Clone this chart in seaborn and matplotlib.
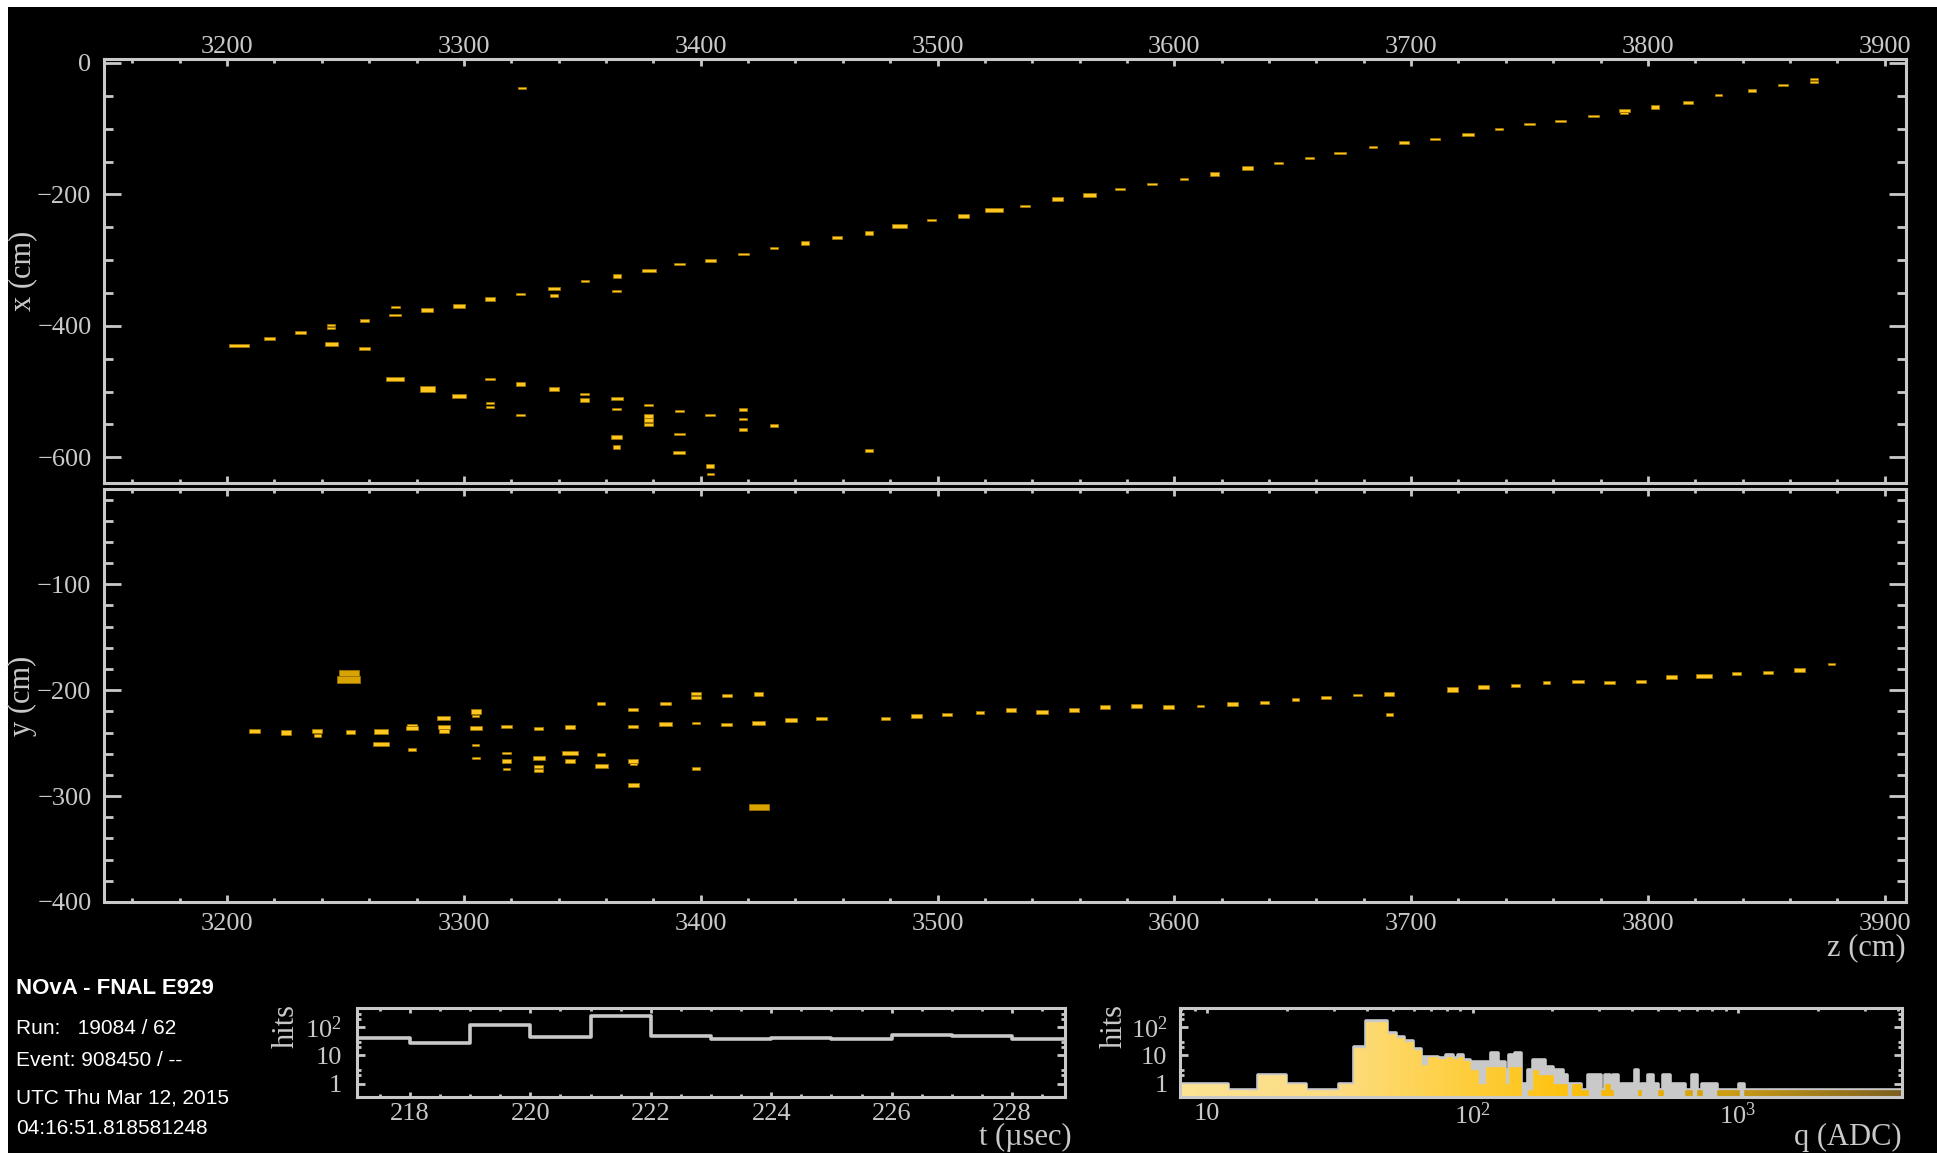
import numpy as np
import matplotlib
matplotlib.use("Agg")
import matplotlib.pyplot as plt
import seaborn as sns
from matplotlib.colors import LinearSegmentedColormap
from matplotlib.patches import Rectangle
from matplotlib.ticker import (MultipleLocator, FixedLocator, FixedFormatter,
                               LogLocator, NullFormatter)

# -----------------------------
# Hits in the x-z view (cm): centre z, centre x, width, height
# -----------------------------
xz_z = [3205, 3218, 3231, 3244, 3244, 3244, 3258, 3258, 3271, 3271,
        3271, 3284.5, 3284.5, 3298, 3298, 3311, 3311, 3311, 3311, 3324.4,
        3324, 3324, 3324, 3338, 3338, 3338, 3351, 3351, 3351, 3364.5,
        3364.5, 3364.5, 3364.5, 3364.5, 3364.5, 3378, 3378, 3378, 3378, 3378,
        3391, 3391, 3391, 3391, 3404, 3404, 3404, 3404, 3418, 3418,
        3418, 3418, 3431, 3431, 3444, 3457.5, 3471, 3471, 3484, 3497.5,
        3511, 3524, 3537, 3550.6, 3564, 3577, 3590.6, 3604, 3617, 3631,
        3644, 3657, 3670, 3684, 3697, 3710, 3724, 3737, 3750, 3763,
        3777, 3790, 3790, 3803, 3817, 3830, 3844, 3857, 3870, 3870]
xz_x = [-430, -419, -410, -399, -403, -428, -392, -434, -372, -384,
        -481, -376, -496, -370, -506, -359, -481, -518, -523, -37.6,
        -352, -489, -535, -343, -354, -496, -331, -503, -513, -324,
        -347, -510, -526, -569, -584, -316, -520, -537, -543, -550,
        -306, -530, -565, -593, -300, -535, -613, -626, -291, -527,
        -541, -558, -281, -551, -274, -265, -258, -590, -248, -239,
        -233, -224, -217, -207, -201, -192, -184.5, -176, -169, -160,
        -152.5, -144, -137, -128.6, -121, -115, -109, -100, -93.5, -88.5,
        -81, -72, -76, -67.6, -60.5, -49, -42, -34, -25, -29]
xz_w = [8.5, 4.5, 4.5, 3.5, 3.5, 5.5, 4, 5, 4, 5,
        7.5, 5, 6.5, 5, 6, 4.5, 4.5, 3.5, 3.5, 3.5,
        4, 4, 4, 5, 3.5, 4, 3.5, 4, 4, 3.5,
        4, 5, 4, 4.5, 3, 6, 4, 3.5, 3.5, 3.5,
        4.5, 4, 4.5, 5, 4.5, 4, 3.5, 3, 4.5, 3.5,
        3.5, 3.5, 3.5, 3.5, 3.5, 4.5, 3.5, 3.5, 6.5, 3.5,
        4.5, 7.5, 4, 4.5, 5.5, 4, 4.5, 3.5, 4, 4.5,
        3.5, 4, 5, 3.5, 4.5, 4, 5, 3.5, 4.5, 4.5,
        5, 4.5, 3.5, 3.5, 4.5, 3, 3.5, 4, 3.5, 3.5]
xz_h = [5, 4, 5, 3, 3, 6, 5, 5, 3, 3,
        6, 7, 8, 7, 6, 5, 3, 3, 3, 3,
        3, 6, 3, 5, 5, 6, 3, 3, 7, 5,
        3, 5, 3, 5, 7, 5, 3, 5, 5, 6,
        3, 3, 3, 5, 5, 3, 6, 3, 3, 5,
        3, 5, 3, 5, 7, 5, 6, 5, 5, 3,
        5, 6, 3, 5, 5, 3, 3, 3, 5, 5,
        3, 3, 3, 3, 5, 3, 5, 3, 3, 3,
        3, 4, 4, 6, 5, 3, 5, 3, 3, 3]

# -----------------------------
# Hits in the y-z view (cm)
# -----------------------------
yz_z = [3211.5, 3224.8, 3238, 3238, 3251.4, 3251.4, 3252, 3265, 3265, 3278,
        3278, 3278, 3291.5, 3291.5, 3291.5, 3305, 3305, 3305, 3305, 3305,
        3318, 3318, 3318, 3318, 3331.6, 3331.6, 3331.6, 3331.6, 3344.8, 3344.8,
        3344.8, 3358, 3358, 3358, 3371.5, 3371.5, 3371.5, 3371.5, 3371.5, 3385,
        3385, 3398, 3398, 3398, 3398, 3411, 3411, 3424.5, 3424.5, 3424.5,
        3438, 3451, 3478, 3491, 3504, 3518, 3531, 3544, 3557.7, 3570.8,
        3584, 3597.5, 3611, 3624.5, 3638, 3651, 3664, 3677.4, 3690.7, 3690.7,
        3717.4, 3730.6, 3744, 3757, 3770.6, 3783.7, 3797, 3810, 3823.7, 3837.4,
        3850.7, 3864, 3877.4]
yz_y = [-238.6, -240, -238.6, -242.6, -183.5, -189.5, -239.5, -239, -250.5, -233,
        -236, -256, -226.6, -235, -238.5, -220, -224, -235.7, -251.7, -264,
        -234.5, -259, -266.8, -274.6, -236, -264, -272, -276, -234.8, -259,
        -266.8, -212.5, -260.5, -271.5, -218.5, -234, -266.8, -270, -289.7, -212.5,
        -231.7, -203, -207.2, -230.7, -274, -205, -232.3, -203.4, -230.7, -310,
        -228, -227, -227, -224.5, -223, -220.7, -218.8, -220.4, -219, -216,
        -214.7, -216, -215, -212.9, -211.3, -208.8, -207.2, -204.4, -203.4, -222.8,
        -199.4, -196.9, -195.6, -192.5, -191.5, -192.5, -191.5, -187.8, -186.8, -184.3,
        -183, -180.6, -175.2]
yz_w = [4.5, 4.5, 4, 3, 8.3, 9.8, 4, 6, 6.5, 4.5,
        5, 3.5, 5.5, 5, 4, 4, 3, 5, 3, 3.5,
        4.5, 3.5, 3.5, 3, 4, 5, 4, 4, 4.5, 7,
        4.5, 3.5, 3.5, 5.5, 4, 4, 4, 3, 4.5, 4.5,
        5.5, 4.5, 4.5, 3.5, 3.5, 4, 4.5, 4, 5.5, 8.5,
        5, 5, 4, 4.5, 4.5, 3.5, 4.5, 5, 4.5, 4.5,
        5, 4.5, 3, 4.5, 4, 3, 4, 3.5, 4.5, 3,
        4.5, 4.5, 4, 3, 5, 4.5, 4, 5, 6.5, 4,
        4, 4.5, 3]
yz_h = [3.5, 4, 3, 3, 6, 6.5, 3, 4, 4, 3,
        4, 3, 4, 3.5, 3, 4, 2, 4, 2, 2,
        3, 2, 3, 2, 3, 4, 3, 3, 4, 4,
        3, 3, 3, 4, 3, 3, 3, 2, 4, 3,
        4, 3, 3, 2, 3, 3, 3, 4, 4, 6,
        4, 3, 3, 4, 3, 3, 4, 4, 4, 4,
        4, 4, 2, 4, 3, 2, 3, 2, 4, 3,
        4, 3, 3, 3, 3, 3, 3, 4, 4, 3,
        3, 4, 2]
yz_dark = [4, 5, 49]   # big, high-charge hits drawn darker

# -----------------------------
# Timing histogram
# -----------------------------
t_edges = [217, 218, 219, 220, 221, 222, 223, 224, 225, 226, 227, 228, 229]
t_hits = [41, 27, 115, 44, 240, 48, 39, 42, 39, 54, 48, 37]

# -----------------------------
# Charge histogram (all hits in grey, hits in view coloured by charge)
# -----------------------------
q_edges = [7.9, 12, 15.5, 19.8, 23.6, 31.5, 35.9, 39.7, 47.6, 51.5,
           55.3, 59.6, 64, 68.2, 74, 79.6, 84.3, 88, 92, 97.5,
           104.8, 112.7, 117.6, 124.5, 132, 137, 144, 152.6, 161.8, 169,
           176, 187, 201, 210, 219, 226, 236, 257, 272, 306,
           315, 329, 337, 354, 409, 421, 433, 459, 480, 501,
           524, 555, 632, 670, 700, 731, 834, 1006, 1057, 4150]
q_all = [1, 0.6, 2, 1, 0.6, 1, 20, 165, 62, 45,
         32, 17, 9, 9, 8, 10, 8, 10, 7, 6,
         6, 6, 12, 6, 3, 10, 12, 1, 3, 7,
         7, 4, 3, 3, 2, 1, 1, 0.6, 2, 0.6,
         2, 0.6, 2, 1, 3, 0.6, 1, 2, 1, 0.6,
         2, 1, 0.6, 2, 0.6, 1, 0.6, 1, 0.6]
q_view = [1, 0.6, 2, 1, 0.6, 1, 18, 150, 58, 42,
          30, 16, 4.5, 9, 7.5, 9, 7.5, 9, 6.5, 3,
          1, 4, 4, 4, 1, 4, 4, 0, 0.6, 3,
          2, 2, 1, 1, 1, 0, 1, 0.6, 0, 0.6,
          1, 0.6, 0, 0, 0, 0.6, 0, 0, 0, 0.6,
          0, 0, 0.6, 0, 0.6, 0, 0.6, 0, 0.6]

info_lines = ["NOvA - FNAL E929", "Run:   19084 / 62", "Event: 908450 / --",
              "UTC Thu Mar 12, 2015", "04:16:51.818581248"]
info_y = [989, 1029, 1060, 1098, 1128]

# -----------------------------
# Style
# -----------------------------
GREY = "#c9c9c9"
HIT = "#ffc71f"
HIT_DARK = "#d9a300"
HIT_EDGE = "#9a7200"
W, H = 1937, 1153

sns.set_style("dark", {"axes.facecolor": "black", "figure.facecolor": "white"})
plt.rcParams["font.family"] = ["Liberation Serif", "DejaVu Serif"]
plt.rcParams["mathtext.fontset"] = "custom"
plt.rcParams["mathtext.rm"] = "Liberation Serif"
plt.rcParams["mathtext.it"] = "Liberation Serif:italic"
plt.rcParams["axes.unicode_minus"] = True

q_cmap = LinearSegmentedColormap.from_list("adc", [
    (0.00, "#fde393"), (0.22, "#fedd80"), (0.33, "#ffd452"),
    (0.44, "#ffca2a"), (0.53, "#ffc20c"), (0.63, "#f0b300"),
    (0.77, "#c99a10"), (1.00, "#7a5d1c")])


def box(l, t, r, b):
    return [l / W, 1 - b / H, (r - l) / W, (b - t) / H]


def frame(ax, xlen, ylen, size=19):
    ax.set_facecolor("black")
    ax.grid(False)
    for sp in ax.spines.values():
        sp.set_visible(True)
        sp.set_color(GREY)
        sp.set_linewidth(2.2)
    ax.tick_params(which="both", direction="in", color=GREY, labelcolor=GREY,
                   width=2, top=True, bottom=True, left=True, right=True,
                   labelsize=size)
    ax.tick_params(axis="x", which="major", length=xlen[0])
    ax.tick_params(axis="x", which="minor", length=xlen[1])
    ax.tick_params(axis="y", which="major", length=ylen[0])
    ax.tick_params(axis="y", which="minor", length=ylen[1])


def draw_hits(ax, z, pos, w, h, dark=()):
    z, pos, w, h = map(np.asarray, (z, pos, w, h))
    cols = [HIT_DARK if i in dark else HIT for i in range(len(z))]
    ax.bar(z, h, width=w, bottom=pos - h / 2, color=cols,
           edgecolor=HIT_EDGE, linewidth=0.6, zorder=3)


fig = plt.figure(figsize=(W / 100, H / 100), dpi=100)
fig.add_artist(Rectangle((8 / W, 0), 1, 1 - 7 / H, transform=fig.transFigure,
                         facecolor="black", edgecolor="none", zorder=-5))

ax_xz = fig.add_axes(box(104, 59, 1906, 483))
ax_yz = fig.add_axes(box(104, 489, 1906, 902))
ax_t = fig.add_axes(box(357, 1008, 1065, 1097))
ax_q = fig.add_axes(box(1180, 1008, 1902, 1097))

# -----------------------------
# Detector views
# -----------------------------
draw_hits(ax_xz, xz_z, xz_x, xz_w, xz_h)
draw_hits(ax_yz, yz_z, yz_y, yz_w, yz_h, dark=yz_dark)

for ax in (ax_xz, ax_yz):
    frame(ax, (5, 3), (12.5, 6.5))
    ax.set_xlim(3148, 3909)
    ax.xaxis.set_major_locator(MultipleLocator(100))
    ax.xaxis.set_minor_locator(MultipleLocator(20))
    ax.tick_params(axis="y", which="major", pad=9)

ax_xz.set_ylim(-639, 6)
ax_xz.yaxis.set_major_locator(MultipleLocator(200))
ax_xz.yaxis.set_minor_locator(MultipleLocator(50))
ax_xz.tick_params(axis="x", labeltop=True, labelbottom=False, pad=1)
ax_xz.set_ylabel("x (cm)", fontsize=22, color=GREY)
ax_xz.yaxis.set_label_coords(-0.037, 0.5)

ax_yz.set_ylim(-400, -10)
ax_yz.yaxis.set_major_locator(MultipleLocator(100))
ax_yz.yaxis.set_minor_locator(MultipleLocator(20))
ax_yz.tick_params(axis="x", labeltop=False, labelbottom=True, pad=8)
ax_yz.set_ylabel("y (cm)", fontsize=22, color=GREY)
ax_yz.yaxis.set_label_coords(-0.037, 0.5)
ax_yz.set_xlabel("z (cm)", fontsize=22, color=GREY, loc="right")
ax_yz.xaxis.set_label_coords(1.0, -0.075)

# -----------------------------
# Timing histogram
# -----------------------------
t_centers = (np.array(t_edges[:-1]) + np.array(t_edges[1:])) / 2
sns.histplot(x=t_centers, weights=t_hits, bins=t_edges, element="step",
             fill=False, color=GREY, linewidth=2.6, ax=ax_t)

# -----------------------------
# Charge histogram
# -----------------------------
qe = np.array(q_edges)
q_centers = np.sqrt(qe[:-1] * qe[1:])
sns.histplot(x=q_centers, weights=q_all, bins=q_edges, element="step",
             fill=True, color=GREY, edgecolor=GREY, alpha=1, linewidth=2.6,
             ax=ax_q)

lq0, lq1 = np.log10(7.9), np.log10(4150)
for lo, hi, v in zip(qe[:-1], qe[1:], q_view):
    if v <= 0:
        continue
    n = max(1, int(np.ceil((np.log10(hi) - np.log10(lo)) / 0.008)))
    sub = np.geomspace(lo, hi, n + 1)
    mids = np.log10(np.sqrt(sub[:-1] * sub[1:]))
    cols = q_cmap((mids - lq0) / (lq1 - lq0))
    ax_q.bar(sub[:-1], v, width=np.diff(sub), align="edge", color=cols,
             edgecolor=cols, linewidth=0.4, zorder=2)

for ax in (ax_t, ax_q):
    frame(ax, (3.5, 2), (5.5, 3), size=19)
    ax.set_yscale("log")
    ax.set_ylim(0.34, 470)
    ax.yaxis.set_major_locator(FixedLocator([1, 10, 100]))
    ax.yaxis.set_major_formatter(FixedFormatter(["1", "10", r"$10^{2}$"]))
    ax.yaxis.set_minor_locator(LogLocator(base=10, subs=(2, 3)))
    ax.yaxis.set_minor_formatter(NullFormatter())
    ax.set_ylabel("hits", fontsize=22, color=GREY, loc="top")
    ax.tick_params(axis="x", which="major", pad=4)

ax_t.set_xlim(217.12, 228.88)
ax_t.xaxis.set_major_locator(MultipleLocator(2))
ax_t.xaxis.set_minor_locator(MultipleLocator(0.5))
ax_t.tick_params(axis="y", which="major", pad=11)
ax_t.set_xlabel("t (µsec)", fontsize=22, color=GREY, loc="right")
ax_t.xaxis.set_label_coords(1.01, -0.29)
ax_t.yaxis.set_label_coords(-0.079, 1.05)

ax_q.set_xscale("log")
ax_q.set_xlim(7.9, 4150)
ax_q.xaxis.set_major_locator(FixedLocator([10, 100, 1000]))
ax_q.xaxis.set_major_formatter(FixedFormatter(["10", r"$10^{2}$", r"$10^{3}$"]))
ax_q.xaxis.set_minor_locator(LogLocator(base=10, subs=(2, 3, 4, 5, 6, 7, 8, 9)))
ax_q.xaxis.set_minor_formatter(NullFormatter())
ax_q.tick_params(axis="y", which="major", pad=9)
ax_q.set_xlabel("q (ADC)", fontsize=22, color=GREY, loc="right")
ax_q.xaxis.set_label_coords(1.0, -0.29)
ax_q.yaxis.set_label_coords(-0.071, 1.05)

# -----------------------------
# Run information
# -----------------------------
for i, (txt, yp) in enumerate(zip(info_lines, info_y)):
    fig.text(16 / W, 1 - yp / H, txt, family=["Liberation Sans", "DejaVu Sans"],
             fontsize=16 if i == 0 else 15, fontweight="bold" if i == 0 else "normal",
             color="white", va="center", ha="left")

fig.savefig("out.png", dpi=100, facecolor=fig.get_facecolor())
